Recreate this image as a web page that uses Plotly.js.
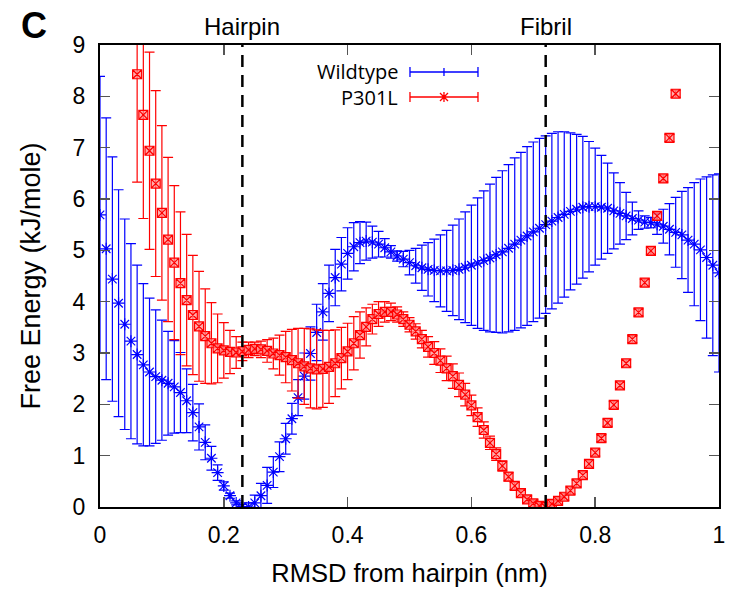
<!DOCTYPE html>
<html>
<head>
<meta charset="utf-8">
<script src="https://cdn.plot.ly/plotly-3.0.1.min.js"></script>
<style>html,body{margin:0;padding:0;background:#fff;}#chart{width:745px;height:596px;}</style>
</head>
<body>
<div id="chart"></div>
<script>
// ---- data ----
const seriesNames = ['Wildtype', 'P301L'];
const refNames = ['Hairpin', 'Fibril'];
const refX = [0.23, 0.72];

const rmsdWT = [0.00,0.01,0.02,0.03,0.04,0.05,0.06,0.07,0.08,0.09,
  0.10,0.11,0.12,0.13,0.14,0.15,0.16,0.17,0.18,0.19,
  0.20,0.21,0.22,0.23,0.24,0.25,0.26,0.27,0.28,0.29,
  0.30,0.31,0.32,0.33,0.34,0.35,0.36,0.37,0.38,0.39,
  0.40,0.41,0.42,0.43,0.44,0.45,0.46,0.47,0.48,0.49,
  0.50,0.51,0.52,0.53,0.54,0.55,0.56,0.57,0.58,0.59,
  0.60,0.61,0.62,0.63,0.64,0.65,0.66,0.67,0.68,0.69,
  0.70,0.71,0.72,0.73,0.74,0.75,0.76,0.77,0.78,0.79,
  0.80,0.81,0.82,0.83,0.84,0.85,0.86,0.87,0.88,0.89,
  0.90,0.91,0.92,0.93,0.94,0.95,0.96,0.97,0.98,0.99,1.00];
const feWT = [5.69,5.03,4.44,3.97,3.56,3.23,2.97,2.77,2.63,2.54,
  2.47,2.41,2.34,2.23,2.07,1.84,1.56,1.26,0.95,0.67,
  0.41,0.22,0.08,0.01,0.00,0.08,0.22,0.42,0.68,0.98,
  1.33,1.72,2.13,2.55,2.99,3.40,3.80,4.16,4.47,4.73,
  4.94,5.07,5.15,5.18,5.16,5.12,5.05,4.97,4.89,4.83,
  4.76,4.70,4.66,4.63,4.61,4.60,4.60,4.61,4.63,4.67,
  4.71,4.75,4.80,4.85,4.91,4.97,5.04,5.12,5.20,5.28,
  5.36,5.43,5.50,5.57,5.64,5.70,5.76,5.80,5.84,5.85,
  5.85,5.84,5.82,5.77,5.72,5.67,5.62,5.59,5.55,5.54,
  5.51,5.47,5.41,5.35,5.30,5.20,5.12,5.01,4.86,4.71,4.56];
const errWT = [2.70,2.55,2.38,2.21,2.05,1.90,1.74,1.58,1.44,1.30,
  1.17,1.01,0.90,0.78,0.62,0.55,0.45,0.34,0.23,0.15,
  0.08,0.05,0.04,0.04,0.08,0.15,0.24,0.35,0.30,0.29,
  0.30,0.30,0.35,0.45,0.52,0.55,0.55,0.55,0.55,0.52,
  0.50,0.47,0.41,0.37,0.31,0.25,0.18,0.12,0.10,0.15,
  0.24,0.34,0.44,0.52,0.61,0.70,0.79,0.88,0.98,1.08,
  1.17,1.27,1.36,1.44,1.51,1.58,1.63,1.68,1.71,1.74,
  1.75,1.75,1.73,1.71,1.67,1.61,1.53,1.46,1.38,1.27,
  1.14,1.01,0.88,0.74,0.60,0.46,0.32,0.18,0.12,0.10,
  0.20,0.33,0.50,0.68,0.85,1.02,1.20,1.38,1.57,1.76,1.93];

const rmsdP = [0.06,0.07,0.08,0.09,
  0.10,0.11,0.12,0.13,0.14,0.15,0.16,0.17,0.18,0.19,
  0.20,0.21,0.22,0.23,0.24,0.25,0.26,0.27,0.28,0.29,
  0.30,0.31,0.32,0.33,0.34,0.35,0.36,0.37,0.38,0.39,
  0.40,0.41,0.42,0.43,0.44,0.45,0.46,0.47,0.48,0.49,
  0.50,0.51,0.52,0.53,0.54,0.55,0.56,0.57,0.58,0.59,
  0.60,0.61,0.62,0.63,0.64,0.65,0.66,0.67,0.68,0.69,
  0.70,0.71,0.72,0.73,0.74,0.75,0.76,0.77,0.78,0.79,
  0.80,0.81,0.82,0.83,0.84,0.85,0.86,0.87,0.88,0.89,
  0.90,0.91,0.92,0.93];
const feP = [8.43,7.64,6.94,6.30,
  5.73,5.21,4.76,4.36,4.03,3.74,3.52,3.33,3.19,3.09,
  3.05,3.02,3.01,3.03,3.06,3.08,3.07,3.04,2.99,2.96,
  2.92,2.86,2.80,2.74,2.70,2.68,2.69,2.73,2.80,2.90,
  3.03,3.19,3.35,3.51,3.66,3.76,3.80,3.80,3.75,3.66,
  3.55,3.42,3.27,3.12,3.00,2.85,2.70,2.55,2.38,2.19,
  1.98,1.75,1.50,1.25,1.03,0.80,0.59,0.41,0.27,0.15,
  0.07,0.02,0.00,0.06,0.12,0.20,0.32,0.46,0.62,0.84,
  1.06,1.34,1.64,1.99,2.37,2.80,3.27,3.79,4.37,4.99,
  5.67,6.40,7.19,8.05];
const errP = [2.10,2.02,1.92,1.81,
  1.70,1.60,1.50,1.39,1.28,1.16,1.07,0.92,0.79,0.67,
  0.54,0.42,0.31,0.18,0.15,0.13,0.16,0.22,0.30,0.39,
  0.50,0.60,0.68,0.74,0.77,0.77,0.75,0.71,0.65,0.60,
  0.55,0.52,0.45,0.37,0.29,0.24,0.20,0.17,0.15,0.14,
  0.14,0.15,0.17,0.20,0.22,0.23,0.24,0.24,0.23,0.22,
  0.20,0.18,0.16,0.13,0.12,0.10,0.08,0.07,0.07,0.07,
  0.07,0.07,0.07,0.07,0.07,0.07,0.07,0.07,0.07,0.07,
  0.07,0.07,0.07,0.07,0.07,0.07,0.07,0.07,0.07,0.07,
  0.07,0.07,0.07,0.07];

const xTickVals = [0, 0.2, 0.4, 0.6, 0.8, 1];
const xTickText = ['0', '0.2', '0.4', '0.6', '0.8', '1'];
const yTickVals = [0,1,2,3,4,5,6,7,8,9];
const yTickText = ['0','1','2','3','4','5','6','7','8','9'];

// ---- styles ----
const BLUE = 'rgb(0,0,255)';
const RED = 'rgb(255,0,0)';
const SANS = '"Liberation Sans", Arial, sans-serif';

const traces = [
  {
    x: rmsdWT, y: feWT, type: 'scatter', mode: 'markers', name: seriesNames[0],
    showlegend: false,
    marker: {symbol: 'asterisk-open', size: 10, color: BLUE, line: {color: BLUE, width: 1.2}},
    error_y: {type: 'data', array: errWT, visible: true, color: BLUE, thickness: 1.2, width: 5}
  },
  {
    x: rmsdP, y: feP, type: 'scatter', mode: 'markers', name: seriesNames[1],
    showlegend: false,
    marker: {symbol: 'square-x', size: 9, color: 'rgba(255,140,140,0.7)', line: {color: RED, width: 1.2}},
    error_y: {type: 'data', array: errP, visible: true, color: RED, thickness: 1.2, width: 5}
  }
];

const shapes = [];
const annotations = [];
refX.forEach((xv, i) => {
  shapes.push({type: 'line', xref: 'x', yref: 'paper', x0: xv, x1: xv, y0: 0, y1: 1,
    line: {color: '#000', width: 2.5, dash: '12px,8px'}, layer: 'above'});
  annotations.push({xref: 'x', yref: 'paper', x: xv, y: 1.04, text: refNames[i], showarrow: false,
    xanchor: 'center', yanchor: 'middle', font: {family: SANS, size: 24, color: '#000'}});
});

// manual legend (text left, glyph right as in the reference)
const legendX = 0.4847, glyphX = 0.5557;
const legendY = [0.9416, 0.8874];
const legendColors = [BLUE, RED];
const legendMarkerPath = ['M0,-4V4', 'M-5,0H5M-4,-4L4,4M-4,4L4,-4M0,-5V5'];
seriesNames.forEach((nm, i) => {
  annotations.push({xref: 'paper', yref: 'paper', x: legendX, y: legendY[i], text: nm, showarrow: false,
    xanchor: 'right', yanchor: 'middle', font: {family: '"Open Sans", sans-serif', size: 20, color: '#000'}});
  shapes.push({type: 'path', xref: 'paper', yref: 'paper', xsizemode: 'pixel', ysizemode: 'pixel',
    xanchor: glyphX, yanchor: legendY[i],
    path: 'M-34,0H34M-34,-5V5M34,-5V5' + legendMarkerPath[i],
    line: {color: legendColors[i], width: 1.3}});
});

annotations.push({xref: 'paper', yref: 'paper', x: -0.107, y: 1.043, text: '<b>C</b>', showarrow: false,
  xanchor: 'center', yanchor: 'middle', font: {family: SANS, size: 36, color: '#000'}});

const axisCommon = {
  showgrid: false, zeroline: false, showline: true, linecolor: '#000', linewidth: 2,
  mirror: 'ticks', ticks: 'inside', ticklen: 10, tickwidth: 1.5, tickcolor: '#555',
  tickfont: {family: SANS, size: 23, color: '#000'}
};

const layout = {
  width: 745, height: 596,
  margin: {l: 100, r: 26, t: 45, b: 89},
  paper_bgcolor: '#fff', plot_bgcolor: '#fff',
  showlegend: false,
  xaxis: Object.assign({}, axisCommon, {
    range: [0, 1], tickmode: 'array', tickvals: xTickVals, ticktext: xTickText,
    ticklabelstandoff: 6,
    title: {text: 'RMSD from hairpin (nm)', font: {family: SANS, size: 25.5, color: '#000'}, standoff: 18}
  }),
  yaxis: Object.assign({}, axisCommon, {
    range: [0, 9], tickmode: 'array', tickvals: yTickVals, ticktext: yTickText,
    ticklabelstandoff: 8,
    title: {text: 'Free Energy (kJ/mole)', font: {family: SANS, size: 27, color: '#000'}, standoff: 24}
  }),
  shapes: shapes,
  annotations: annotations
};

Plotly.newPlot('chart', traces, layout, {displayModeBar: false, staticPlot: true});
</script>
</body>
</html>
